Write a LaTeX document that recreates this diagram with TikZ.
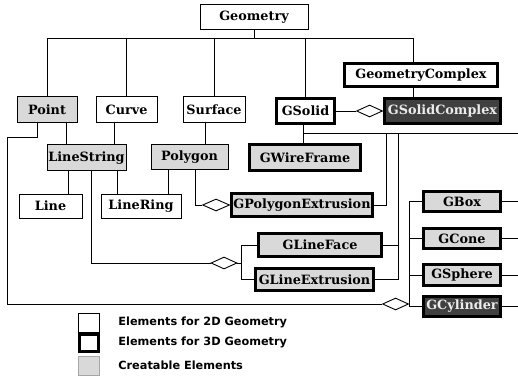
\documentclass[tikz,border=0pt]{standalone}
\usepackage{fontspec}
\setmainfont{DejaVu Serif}
\newfontfamily\legendfont{DejaVu Sans}
\usetikzlibrary{shapes.geometric}

\begin{document}
\begin{tikzpicture}[x=1pt,y=-1pt,line width=0.9pt,
  every node/.style={font=\bfseries\fontsize{12.8}{13}\selectfont, inner sep=0pt},
  elem2d/.style={draw, line width=1pt, fill=white},
  elem3d/.style={draw, line width=3pt, fill=white},
  mkable/.style={fill=gray!30},
  mkdark/.style={fill=black!75, text=gray!15},
  aggr/.style={draw, diamond, fill=white, line width=0.9pt, minimum width=26, minimum height=12},
  keytext/.style={anchor=west, font=\legendfont\bfseries\fontsize{11.3}{12}\selectfont}]
\useasboundingbox (0,0) rectangle (518,379);

% abstract top
\node[elem2d, minimum width=108, minimum height=25] (geo) at (254,17.5) {Geometry};
\node[elem2d, mkable, minimum width=60, minimum height=26] (point) at (47,110) {Point};
\node[elem2d, minimum width=61, minimum height=26] (curve) at (126.5,110) {Curve};
\node[elem2d, minimum width=62, minimum height=26] (surf) at (214,110) {Surface};
\node[elem3d, minimum width=58, minimum height=25] (gsolid) at (305.5,111) {GSolid};
\node[elem3d, minimum width=153, minimum height=23] (gcomp) at (421,75) {GeometryComplex};
\node[elem3d, mkdark, minimum width=116, minimum height=25] (gscomp) at (442.5,111) {GSolidComplex};

% 2D elements
\node[elem2d, mkable, minimum width=79, minimum height=26] (lstr) at (86.5,158) {LineString};
\node[elem2d, mkable, minimum width=77, minimum height=25] (poly) at (189.5,157.5) {Polygon};
\node[elem2d, minimum width=63, minimum height=24] (line) at (50.5,206) {Line};
\node[elem2d, minimum width=80, minimum height=24] (lring) at (141,206) {LineRing};

% 3D elements
\node[elem3d, mkable, minimum width=111, minimum height=26] (gwire) at (305,157.5) {GWireFrame};
\node[elem3d, mkable, minimum width=141, minimum height=23] (gpe) at (302,205) {GPolygonExtrusion};
\node[elem3d, mkable, minimum width=123, minimum height=23] (glf) at (320,245) {GLineFace};
\node[elem3d, mkable, minimum width=118, minimum height=22] (glx) at (314.5,279.5) {GLineExtrusion};
\node[elem3d, mkable, minimum width=77, minimum height=20] (gbox) at (462,201.5) {GBox};
\node[elem3d, mkable, minimum width=77, minimum height=20] (gcone) at (462,238.5) {GCone};
\node[elem3d, mkable, minimum width=77, minimum height=21] (gsph) at (462,275) {GSphere};
\node[elem3d, mkdark, minimum width=77, minimum height=20] (gcyl) at (462,306.5) {GCylinder};

% aggregation diamonds
\node[aggr, anchor=east] (dsol) at (gscomp.west) {};
\node[aggr, anchor=east, minimum width=27] (dpoly) at (gpe.west) {};
\node[aggr] (dline) at (224,263) {};
\node[aggr, anchor=east] (dpt) at (409,304) {};

\coordinate (bus) at (0,38);
\coordinate (corner) at (7,137);
\coordinate (redge) at (518,133);
\coordinate (b2) at (386,133);
\coordinate (b3) at (398,133);

% generalisation from Geometry
\draw (geo.south) -- (geo.south |- bus);
\draw (point.north) |- ([xshift=-8]gcomp.north |- bus) -- ([xshift=-8]gcomp.north);
\foreach \n in {curve,surf,gsolid}
  \draw (\n.north) -- (\n.north |- bus);

% 2D links
\draw ([xshift=-20]lstr.north) -- ([xshift=-20]lstr.north |- point.south);
\draw ([xshift=-12]curve.south) -- ([xshift=-12]curve.south |- lstr.north);
\draw ([xshift=-9]surf.south) -- ([xshift=-9]surf.south |- poly.north);
\draw ([xshift=-18.5]lstr.south) -- ([xshift=-18.5]lstr.south |- line.north);
\draw ([xshift=30.5]lstr.south) -- ([xshift=30.5]lstr.south |- lring.north);
\draw ([xshift=-21.5]poly.south) -- ([xshift=-21.5]poly.south |- lring.north);
\draw ([xshift=5.5]poly.south) |- (dpoly.west);
\draw ([xshift=4.5]lstr.south) |- (dline.west);
\draw (dline.east) -- ++(4,0) |- (glf.west);
\draw (dline.east) -- ++(4,0) |- (glx.west);
\draw ([xshift=-10]point.south) |- (corner) |- (dpt.west);

% 3D links
\draw ([xshift=-8]gcomp.south) -- ([xshift=-8]gcomp.south |- gscomp.north);
\draw (gsolid.east) -- (dsol.west);
\draw ([xshift=-2.5]gsolid.south) -- ([xshift=-2.5]gsolid.south |- gwire.north);
\draw ([xshift=-2.5]gsolid.south |- redge) -- (redge);
\draw (gpe.east) -| (b2);
\draw (glx.east) -| (b3);
\draw (glf.east) -- (glf.east -| b3);
\draw (dpt.east |- gbox.west) -- (dpt.east |- gcyl.west);
\foreach \n in {gbox,gcone,gsph,gcyl} {
  \draw (dpt.east |- \n.west) -- (\n.west);
  \draw (\n.east) -- (\n.east -| redge);
}

% legend
\node[elem2d, minimum width=21, minimum height=19] (key2d) at (89,322.5) {};
\node[elem3d, minimum width=19, minimum height=17] (key3d) at (89,342.5) {};
\node[draw=gray!70, line width=0.8pt, mkable, minimum width=21, minimum height=19] (keymk) at (89,365.5) {};
\node[keytext] at ([xshift=18]key2d.east) {Elements for 2D Geometry};
\node[keytext] at ([xshift=18]key3d.east) {Elements for 3D Geometry};
\node[keytext] at ([xshift=18]keymk.east) {Creatable Elements};
\end{tikzpicture}
\end{document}
